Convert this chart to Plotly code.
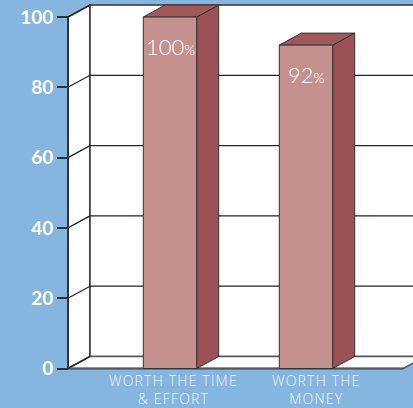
import plotly.graph_objects as go

# ---- data ----
categories = ["WORTH THE TIME<br>& EFFORT", "WORTH THE<br>MONEY"]
values = [100, 92]
value_labels = ["100", "92"]
y_ticks = [0, 20, 40, 60, 80, 100]

# ---- style / geometry ----
BLUE = "#86b6df"
FRONT = "#c4918f"
SIDE = "#9c5255"
TOP = "#a1585b"
EDGE = "#333333"
GRID = "#222222"

px_per_cat = 136.0
px_per_unit = 3.515
W, H = 413, 408
ml, mr, mt, mb = 40, 0, 0, 30
x_center0_px = 170.0
front_axis_px = 68.0
floor_right_px = 403.3
y0_px = 368.5

x_min = (ml - x_center0_px) / px_per_cat
x_max = (W - mr - x_center0_px) / px_per_cat
y_min = -((H - mb) - y0_px) / px_per_unit
y_max = (y0_px - mt) / px_per_unit

xL = (front_axis_px - x_center0_px) / px_per_cat
xF = (floor_right_px - x_center0_px) / px_per_cat
dx = 22.0 / px_per_cat
dy = 12.0 / px_per_unit
bw = 53.4 / px_per_cat
top_v = max(y_ticks)

xs = list(range(len(categories)))

fig = go.Figure()
fig.add_trace(go.Bar(
    x=xs, y=values, width=bw,
    marker=dict(color=FRONT, line=dict(color=EDGE, width=1)),
    hoverinfo="skip", showlegend=False,
))

def poly(pts):
    return "M " + " L ".join(f"{x},{y}" for x, y in pts) + " Z"

shapes = []
# left wall
shapes.append(dict(type="path", path=poly([(xL, 0), (xL + dx, dy), (xL + dx, top_v + dy), (xL, top_v)]),
                   fillcolor="white", line=dict(color=EDGE, width=1.5), layer="below"))
# back wall
shapes.append(dict(type="path", path=poly([(xL + dx, dy), (x_max + 1, dy), (x_max + 1, top_v + dy), (xL + dx, top_v + dy)]),
                   fillcolor="white", line=dict(color=EDGE, width=1.5), layer="below"))
# floor
shapes.append(dict(type="path", path=poly([(xL, 0), (xF, 0), (xF + dx, dy), (xL + dx, dy)]),
                   fillcolor="white", line=dict(color="#555555", width=1.5), layer="below"))
# front floor edge (thicker)
shapes.append(dict(type="line", x0=xL, y0=0, x1=xF, y1=0,
                   line=dict(color="#555555", width=2), layer="below"))
# back wall gridlines and left wall diagonals
for v in y_ticks:
    if 0 < v < top_v:
        shapes.append(dict(type="line", x0=xL + dx, y0=v + dy, x1=x_max + 1, y1=v + dy,
                           line=dict(color=GRID, width=1.2), layer="below"))
    shapes.append(dict(type="line", x0=xL, y0=v, x1=xL + dx, y1=v + dy,
                       line=dict(color=GRID, width=1.2), layer="below"))
# front axis line
shapes.append(dict(type="line", x0=xL, y0=0, x1=xL, y1=top_v,
                   line=dict(color=EDGE, width=2), layer="below"))
# bar sides and tops
for i, v in zip(xs, values):
    xl, xr = i - bw / 2, i + bw / 2
    shapes.append(dict(type="path", path=poly([(xr, 0), (xr + dx, dy), (xr + dx, v + dy), (xr, v)]),
                       fillcolor=SIDE, line=dict(color=EDGE, width=1), layer="below"))
    shapes.append(dict(type="path", path=poly([(xl, v), (xl + dx, v + dy), (xr + dx, v + dy), (xr, v)]),
                       fillcolor=TOP, line=dict(color=EDGE, width=1), layer="below"))

annotations = []
for i, v, lab in zip(xs, values, value_labels):
    annotations.append(dict(
        x=i, y=v, xref="x", yref="y", yshift=-29, showarrow=False,
        text=f"{lab}<span style='font-size:14px'>%</span>",
        font=dict(family="Lato", size=22, color="white", weight=300),
        xanchor="center", yanchor="middle",
    ))
cat_offsets = [3, 10]
for i, lab, off in zip(xs, categories, cat_offsets):
    spaced = "<br>".join(f"<span style='letter-spacing:1.2px'>{part}</span>" for part in lab.split("<br>"))
    annotations.append(dict(
        x=i, y=0, xref="x", yref="y", xshift=off, yshift=-1, showarrow=False,
        text=spaced, align="center", borderpad=0,
        font=dict(family="Open Sans", size=14, color="#eef4fb", weight=300),
        xanchor="center", yanchor="top",
    ))

fig.update_layout(
    width=W, height=H,
    margin=dict(l=ml, r=mr, t=mt, b=mb, pad=0),
    paper_bgcolor=BLUE, plot_bgcolor=BLUE,
    shapes=shapes, annotations=annotations,
    showlegend=False,
    xaxis=dict(range=[x_min, x_max], showticklabels=False, showgrid=False,
               zeroline=False, showline=False, ticks="", fixedrange=True),
    yaxis=dict(range=[y_min, y_max], tickvals=y_ticks, anchor="free",
               position=(front_axis_px - ml) / (W - ml - mr),
               ticks="outside", ticklen=11, tickwidth=1.5, tickcolor=EDGE,
               showgrid=False, zeroline=False, showline=False,
               tickfont=dict(family="Lato", size=19, color="white", weight="bold")),
)

fig.write_html("out.html", config={"displayModeBar": False},
               post_script="document.body.style.margin='0px';")
